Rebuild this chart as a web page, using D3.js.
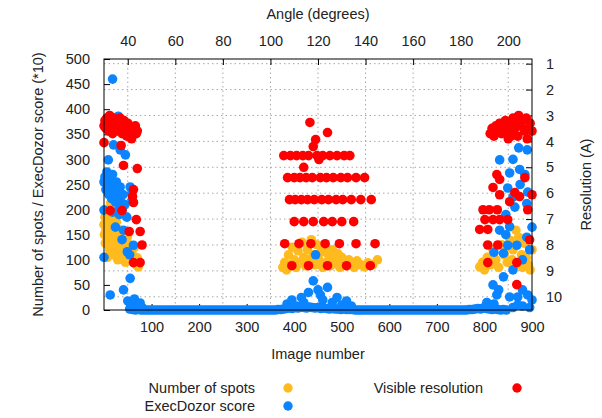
<!DOCTYPE html>
<html>
<head>
<meta charset="utf-8">
<script src="https://cdn.jsdelivr.net/npm/d3@7/dist/d3.min.js"></script>
<style>
  body { margin: 0; background: #fff; }
  text { font-family: "Liberation Sans", Arial, sans-serif; font-size: 14.5px; fill: #222; }
</style>
</head>
<body>
<svg id="chart" width="602" height="418"></svg>
<script>
// [image, number of spots]
const spots = [
  [0,170],[1,150],[2,185],[3,133],[4,160],[5,200],[6,140],[7,105],[8,175],[10,195],[11,155],[12,120],
  [14,213],[15,165],[16,130],[18,145],[19,180],[20,110],[22,160],[23,125],[25,140],[26,175],[28,150],
  [29,100],[31,135],[32,160],[34,120],[35,145],[37,105],[38,128],[40,150],[42,115],[44,138],[45,95],
  [47,120],[49,145],[51,108],[53,130],[55,100],[57,118],[60,110],[62,95],[64,125],[66,102],[68,90],
  [70,104],[72,86],[74,95],
  [376,85],[380,95],[384,80],[388,110],[392,90],[396,125],[400,100],[404,85],[408,118],[412,95],
  [416,135],[420,105],[424,88],[428,120],[432,100],[436,140],[440,110],[444,90],[448,130],[452,100],
  [456,115],[460,85],[464,125],[468,95],[472,110],[476,88],[480,120],[484,100],[488,92],[492,112],
  [496,85],[500,105],[505,95],[510,88],[515,100],[520,92],[526,85],[532,98],[540,90],[548,86],
  [555,94],[565,90],[575,100],
  [790,86],[796,95],[800,80],[806,105],[812,90],[818,120],[824,100],[830,85],[836,130],[842,110],
  [848,95],[854,139],[860,120],[866,159],[872,145],[878,110],[884,133],[888,104],[892,90],[896,80],
  [900,120],[870,90],[880,85],[858,100],[846,125]
];

// [image, ExecDozor score * 10]
const dozor = [
  [18,460],[30,386],[20,329],[34,319],[45,309],[9,299],[0,255],[2,265],[4,240],[6,275],[8,250],
  [10,230],[12,262],[14,245],[16,222],[18,270],[20,250],[22,235],[24,215],[26,255],[28,240],[30,225],
  [32,205],[34,245],[36,215],[38,200],[40,230],[44,210],[55,245],[58,232],[48,185],[59,219],[0,199],
  [24,165],[41,159],[38,140],[62,129],[49,116],[54,110],[0,105],[13,30],[41,40],[55,63],[32,190],
  [18,195],[50,18],[56,12],[60,8],[64,22],[68,10],[72,6],[76,14],[80,5],
  [385,12],[395,20],[405,8],[415,25],[420,15],[430,35],[440,58],[445,110],[450,40],[455,30],
  [460,20],[470,45],[480,15],[490,25],[500,10],[510,18],[520,8],
  [872,323],[890,319],[832,299],[853,273],[874,280],[891,235],[849,243],[864,205],[832,159],
  [853,166],[889,212],[900,165],[849,129],[868,129],[889,145],[840,113],[840,66],[818,50],[830,40],
  [826,30],[853,26],[870,26],[891,30],[900,20],[805,15],[870,10],[880,40],[860,80],[880,100],
  [895,120],[845,190],[860,225],[875,250],[885,270],[860,300],[845,150],[820,115],[800,5],[810,8],
  [820,12],[860,5],[880,8],[895,5]
];

// ExecDozor score near zero between the crystal passes
const dozorBase = [
  [54,2],[60,1],[66,0],[72,1],[78,0],[84,0],[90,0],[96,0],[102,0],[108,0],[114,0],[120,0],[126,0],
  [132,0],[138,0],[144,0],[150,0],[156,0],[162,0],[168,0],[174,0],[180,0],[186,0],[192,0],[198,0],
  [204,0],[210,0],[216,0],[222,0],[228,0],[234,0],[240,0],[246,0],[252,0],[258,0],[264,0],[270,0],
  [276,0],[282,0],[288,0],[294,0],[300,0],[306,0],[312,0],[318,0],[324,0],[330,0],[336,0],[342,0],
  [348,0],[354,0],[360,0],[366,1],[372,1],[378,2],[384,3],[390,4],[396,3],[402,5],[408,4],[414,6],
  [420,5],[426,4],[432,6],[438,5],[444,4],[450,5],[456,3],[462,4],[468,3],[474,2],[480,3],[486,2],
  [492,2],[498,1],[504,2],[510,1],[516,1],[522,1],[528,0],[534,0],[540,0],[546,0],[552,0],[558,0],
  [564,0],[570,0],[576,0],[582,0],[588,0],[594,0],[600,0],[606,0],[612,0],[618,0],[624,0],[630,0],
  [636,0],[642,0],[648,0],[654,0],[660,0],[666,0],[672,0],[678,0],[684,0],[690,0],[696,0],[702,0],
  [708,0],[714,0],[720,0],[726,0],[732,0],[738,0],[744,0],[750,0],[756,0],[762,0],[768,1],[774,1],
  [780,2],[786,3],[792,2],[798,4],[804,3],[810,2],[816,1],[822,2],[828,1],[834,0],[840,1],[846,0]
];

// [image, visible resolution in A]
const resolution = [
  [0,3.4],[2,3.2],[4,3.5],[6,3.1],[8,3.3],[10,3.6],[12,3.0],[14,3.4],[16,3.2],[18,3.7],[20,3.1],
  [22,3.3],[24,3.5],[26,3.2],[28,3.6],[30,3.3],[32,3.4],[34,3.1],[36,3.5],[38,3.7],[40,3.3],[42,3.2],
  [44,3.6],[46,3.4],[48,3.8],[50,3.3],[52,3.5],[54,3.4],[56,3.6],[58,3.9],[60,3.5],[62,3.7],[64,3.6],
  [66,3.4],[68,3.7],[70,3.6],
  [0,4.05],[36,4.16],[41,4.93],[70,5.05],[62,5.86],[60,6.13],[62,6.36],[13,6.67],[38,6.67],[68,7.02],
  [53,7.48],[76,7.48],[80,8.0],[62,8.68],[76,8.68],
  [433,3.27],[445,3.93],[470,3.66],[440,4.2],[452,4.7],[420,5.0],
  [378,4.55],[392,4.55],[405,4.55],[418,4.55],[430,4.55],[448,4.55],[460,4.55],[475,4.55],[490,4.55],[505,4.55],[517,4.55],
  [386,5.4],[400,5.4],[412,5.4],[425,5.4],[438,5.4],[455,5.4],[468,5.4],[482,5.4],[498,5.4],[512,5.4],[530,5.4],[548,5.4],
  [390,6.25],[402,6.25],[415,6.25],[428,6.25],[442,6.25],[458,6.25],[472,6.25],[488,6.25],[502,6.25],[520,6.25],[540,6.25],[562,6.25],
  [400,7.1],[420,7.1],[440,7.1],[462,7.1],[480,7.1],[500,7.1],[525,7.1],
  [380,7.95],[410,7.95],[435,7.95],[465,7.95],[495,7.95],[530,7.95],[570,7.95],
  [395,8.8],[430,8.8],[470,8.8],[510,8.8],[560,8.8],
  [812,3.7],[816,3.5],[820,3.8],[824,3.4],[828,3.6],[832,3.3],[836,3.7],[840,3.5],[844,3.2],[848,3.6],
  [852,3.4],[856,3.8],[860,3.1],[864,3.5],[868,3.3],[872,3.0],[876,3.4],[880,3.2],[884,3.6],[888,3.1],
  [892,3.5],[896,3.3],[900,3.6],[850,3.9],[870,3.8],[890,3.9],
  [826,5.28],[832,5.47],[818,5.78],[832,6.06],[853,6.33],[864,5.98],[885,5.4],[900,6.06],[874,6.13],
  [797,6.64],[810,6.64],[827,6.64],[801,7.02],[818,7.02],[832,7.02],[849,7.02],[790,7.4],[807,7.4],
  [807,8.0],[828,8.0],[807,8.68],[868,8.68],[868,9.53],[891,6.64],[895,7.8]
];

const xTicks = [100, 200, 300, 400, 500, 600, 700, 800, 900];
const yTicks = [0, 50, 100, 150, 200, 250, 300, 350, 400, 450, 500];
const angleTicks = [40, 60, 80, 100, 120, 140, 160, 180, 200];
const resTicks = [1, 2, 3, 4, 5, 6, 7, 8, 9, 10];

const plotL = 104, plotR = 532, plotT = 59, plotB = 310;
const svg = d3.select("#chart");

const x = d3.scaleLinear().domain([0, 900]).range([plotL, plotR]);
const x2 = d3.scaleLinear().domain([30, 210]).range([plotL, plotR]);
const y = d3.scaleLinear().domain([0, 500]).range([plotB, plotT]);
const y2 = d3.scaleLinear().domain([0.82, 10.51]).range([plotT, plotB]);

// grid (from angle and resolution ticks)
const grid = svg.append("g")
  .attr("stroke", "#a8a8a8")
  .attr("stroke-width", 1)
  .attr("stroke-dasharray", "1.5,3");
grid.selectAll("line.v").data(angleTicks).join("line")
  .attr("x1", d => x2(d)).attr("x2", d => x2(d))
  .attr("y1", plotT).attr("y2", plotB);
grid.selectAll("line.h").data(resTicks).join("line")
  .attr("x1", plotL).attr("x2", plotR)
  .attr("y1", d => y2(d)).attr("y2", d => y2(d));

// axes, ticks pointing inwards
function style(g) {
  g.select(".domain").remove();
  g.selectAll(".tick line").attr("stroke", "#000");
  g.selectAll(".tick text").attr("fill", "#222").style("font-size", "14.5px")
    .style("font-family", "'Liberation Sans', Arial, sans-serif");
}
svg.append("g").attr("transform", `translate(${plotL},0)`)
  .call(d3.axisLeft(y).tickValues(yTicks).tickSizeInner(-6).tickSizeOuter(0).tickPadding(14))
  .call(style);
svg.append("g").attr("transform", `translate(0,${plotB})`)
  .call(d3.axisBottom(x).tickValues(xTicks).tickSizeInner(-6).tickSizeOuter(0).tickPadding(12))
  .call(style);
svg.append("g").attr("transform", `translate(0,${plotT})`)
  .call(d3.axisTop(x2).tickValues(angleTicks).tickSizeInner(-6).tickSizeOuter(0).tickPadding(13))
  .call(style);
svg.append("g").attr("transform", `translate(${plotR},0)`)
  .call(d3.axisRight(y2).tickValues(resTicks).tickSizeInner(-6).tickSizeOuter(0).tickPadding(14))
  .call(style);

// points
const rad = 4.8;
const colSpots = "#ffbb1e", colDozor = "#0a84ff", colRes = "#ff0000";
svg.append("g").selectAll("circle").data(spots).join("circle")
  .attr("cx", d => x(d[0])).attr("cy", d => y(d[1])).attr("r", rad).attr("fill", colSpots);
svg.append("g").selectAll("circle").data(dozorBase.concat(dozor)).join("circle")
  .attr("cx", d => x(d[0])).attr("cy", d => y(d[1])).attr("r", rad).attr("fill", colDozor);
svg.append("g").selectAll("circle").data(resolution).join("circle")
  .attr("cx", d => x(d[0])).attr("cy", d => y2(d[1])).attr("r", rad).attr("fill", colRes);

// frame
svg.append("rect").attr("x", plotL).attr("y", plotT)
  .attr("width", plotR - plotL).attr("height", plotB - plotT)
  .attr("fill", "none").attr("stroke", "#000").attr("stroke-width", 1);

// titles
svg.append("text").attr("x", (plotL + plotR) / 2).attr("y", 19)
  .attr("text-anchor", "middle").text("Angle (degrees)");
svg.append("text").attr("x", (plotL + plotR) / 2).attr("y", 359)
  .attr("text-anchor", "middle").text("Image number");
svg.append("text").attr("transform", `translate(43,${(plotT + plotB) / 2}) rotate(-90)`)
  .attr("text-anchor", "middle").text("Number of spots / ExecDozor score (*10)");
svg.append("text").attr("transform", `translate(591,${(plotT + plotB) / 2}) rotate(-90)`)
  .attr("text-anchor", "middle").text("Resolution (A)");

// legend
const legend = [
  { label: "Number of spots", color: colSpots, tx: 255, dx: 288, y: 388 },
  { label: "ExecDozor score", color: colDozor, tx: 255, dx: 288, y: 406 },
  { label: "Visible resolution", color: colRes, tx: 483, dx: 517, y: 388 }
];
const lg = svg.append("g").selectAll("g").data(legend).join("g");
lg.append("text").attr("x", d => d.tx).attr("y", d => d.y + 5)
  .attr("text-anchor", "end").text(d => d.label);
lg.append("circle").attr("cx", d => d.dx).attr("cy", d => d.y).attr("r", 4.7)
  .attr("fill", d => d.color);
</script>
</body>
</html>
